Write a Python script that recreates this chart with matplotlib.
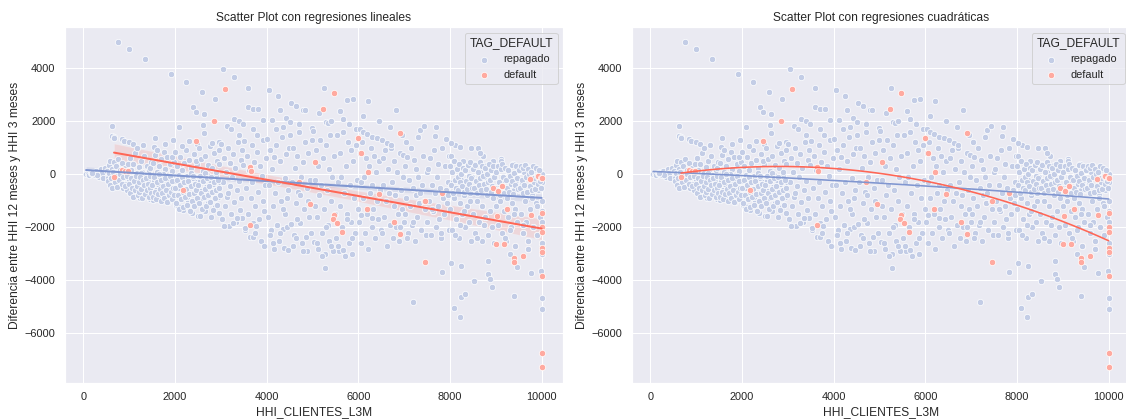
import numpy as np
import pandas as pd
import matplotlib
matplotlib.use('Agg')
import matplotlib.pyplot as plt
import seaborn as sns

# HHI_CLIENTES_L3M (x) vs diferencia HHI 12m - HHI 3m (y), clientes que repagaron
repagado_x = [
    60, 95, 130, 160, 190, 220, 250, 285, 320, 350, 380, 410, 440, 470, 300, 200,
    520, 540, 560, 580, 600, 620, 640, 660, 680, 700, 720, 740, 760, 780, 800, 820, 840, 860, 880, 900, 920, 940, 960, 980, 995, 620, 620, 660, 680, 840, 890, 764, 650,
    1010, 1030, 1050, 1070, 1090, 1110, 1130, 1150, 1170, 1190, 1210, 1230, 1250, 1270, 1290, 1310, 1330, 1350, 1370, 1390, 1410, 1430, 1450, 1470, 1490, 1060, 1160, 1260, 1360, 1460, 1004, 1346, 1004, 1077, 1180, 1300,
    1510, 1530, 1550, 1570, 1590, 1610, 1630, 1650, 1670, 1690, 1710, 1730, 1750, 1770, 1790, 1810, 1830, 1850, 1870, 1890, 1910, 1930, 1950, 1970, 1990, 1540, 1640, 1740, 1840, 1940, 1565, 1550, 1608, 1907, 1780, 1950,
    2010, 2030, 2050, 2070, 2090, 2110, 2130, 2150, 2170, 2190, 2210, 2230, 2250, 2270, 2290, 2310, 2330, 2350, 2370, 2390, 2410, 2430, 2450, 2470, 2490, 2060, 2160, 2260, 2360, 2460, 2095, 2234, 2400, 2453, 2482, 2300, 2150,
    2510, 2530, 2550, 2570, 2590, 2610, 2630, 2650, 2670, 2690, 2710, 2730, 2750, 2770, 2790, 2810, 2830, 2850, 2870, 2890, 2910, 2930, 2950, 2970, 2990, 2560, 2660, 2760, 2860, 2960, 2546, 2597, 2622, 2633, 2626, 2815, 2874, 2968,
    3010, 3030, 3050, 3070, 3090, 3110, 3130, 3150, 3170, 3190, 3210, 3230, 3250, 3270, 3290, 3310, 3330, 3350, 3370, 3390, 3410, 3430, 3450, 3470, 3490, 3060, 3160, 3260, 3360, 3460, 3041, 3288, 3292, 3387, 3130, 3225, 3483, 3400,
    3510, 3530, 3550, 3570, 3590, 3610, 3630, 3650, 3670, 3690, 3710, 3730, 3750, 3770, 3790, 3810, 3830, 3850, 3870, 3890, 3910, 3930, 3950, 3970, 3990, 3528, 3696, 3746, 3950, 3800, 3600, 3600, 3695, 3818, 3928, 3700,
    4010, 4030, 4050, 4070, 4090, 4110, 4130, 4150, 4170, 4190, 4210, 4230, 4250, 4270, 4290, 4310, 4330, 4350, 4370, 4390, 4410, 4430, 4450, 4470, 4490, 4071, 4145, 4294, 4367, 4440, 4462, 4059, 4241, 4291, 4415, 4124, 4200, 4350,
    4510, 4530, 4550, 4570, 4590, 4610, 4630, 4650, 4670, 4690, 4710, 4730, 4750, 4770, 4790, 4810, 4830, 4850, 4870, 4890, 4910, 4930, 4950, 4970, 4990, 4585, 4658, 4731, 4804, 4913, 4509, 4528, 4630, 4804, 4845, 4997, 4700,
    5010, 5030, 5050, 5070, 5090, 5110, 5130, 5150, 5170, 5190, 5210, 5230, 5250, 5270, 5290, 5310, 5330, 5350, 5370, 5390, 5410, 5430, 5450, 5470, 5490, 5095, 5200, 5300, 5400, 5050, 5252, 5296, 5346, 5274, 5150, 5400,
    5510, 5530, 5550, 5570, 5590, 5610, 5630, 5650, 5670, 5690, 5710, 5730, 5750, 5770, 5790, 5810, 5830, 5850, 5870, 5890, 5910, 5930, 5950, 5970, 5990, 5560, 5660, 5760, 5860, 5960, 5747, 5891, 5660, 5600, 5800,
    6010, 6030, 6050, 6070, 6090, 6110, 6130, 6150, 6170, 6190, 6210, 6230, 6250, 6270, 6290, 6310, 6330, 6350, 6370, 6390, 6410, 6430, 6450, 6470, 6490, 6038, 6110, 6184, 6293, 6402, 6060, 6300, 6206, 6100, 6450,
    6510, 6530, 6550, 6570, 6590, 6610, 6630, 6650, 6670, 6690, 6710, 6730, 6750, 6770, 6790, 6810, 6830, 6850, 6870, 6890, 6910, 6930, 6950, 6970, 6990, 6511, 6620, 6707, 6910, 6982, 6816, 6700, 6950,
    7010, 7030, 7050, 7070, 7090, 7110, 7130, 7150, 7170, 7190, 7210, 7230, 7250, 7270, 7290, 7310, 7330, 7350, 7370, 7390, 7410, 7430, 7450, 7470, 7490, 7070, 7200, 7347, 7434, 7050, 7200, 7300,
    7510, 7530, 7550, 7570, 7590, 7610, 7630, 7650, 7670, 7690, 7710, 7730, 7750, 7770, 7790, 7810, 7830, 7850, 7870, 7890, 7910, 7930, 7950, 7970, 7990, 7667, 7907, 7600, 7800, 7950, 7820, 7700,
    8010, 8030, 8050, 8070, 8090, 8110, 8130, 8150, 8170, 8190, 8210, 8230, 8250, 8270, 8290, 8310, 8330, 8350, 8370, 8390, 8410, 8430, 8450, 8470, 8490, 8016, 8110, 8219, 8437, 8300, 8016, 8235, 8095, 8213, 8248, 8322,
    8510, 8530, 8550, 8570, 8590, 8610, 8630, 8650, 8670, 8690, 8710, 8730, 8750, 8770, 8790, 8810, 8830, 8850, 8870, 8890, 8910, 8930, 8950, 8970, 8990, 8655, 8800, 8900, 8600, 8750, 8525, 8830, 8824, 8881, 8925,
    9010, 9030, 9050, 9070, 9090, 9110, 9130, 9150, 9170, 9190, 9210, 9230, 9250, 9270, 9290, 9310, 9330, 9350, 9370, 9390, 9410, 9430, 9450, 9470, 9490, 9114, 9200, 9300, 9400, 9404, 9457, 9300,
    9510, 9530, 9550, 9570, 9590, 9610, 9630, 9650, 9670, 9690, 9710, 9730, 9750, 9770, 9790, 9810, 9830, 9850, 9870, 9890, 9910, 9930, 9950, 9970, 9990, 9600, 9700, 9800, 9900, 10000, 10000, 10000, 10000, 10000, 10000, 9981, 10000, 10000, 9762, 10000,
    # nucleo denso
    530, 555, 575, 605, 630, 655, 690, 715, 745, 770, 805, 835, 865, 905, 945,
    1005, 1025, 1045, 1065, 1085, 1105, 1125, 1145, 1165, 1185, 1205, 1225, 1245, 1265, 1285, 1305, 1325, 1345, 1365, 1385, 1405, 1425, 1445, 1465, 1485,
    1505, 1525, 1545, 1565, 1585, 1605, 1625, 1645, 1665, 1685, 1705, 1725, 1745, 1765, 1785, 1805, 1825, 1845, 1865, 1885, 1905, 1925, 1945, 1965, 1985,
    2005, 2025, 2045, 2065, 2085, 2105, 2125, 2145, 2165, 2185, 2205, 2225, 2245, 2265, 2285, 2305, 2325, 2345, 2365, 2385, 2405, 2425, 2445, 2465, 2485,
    2505, 2525, 2545, 2565, 2585, 2605, 2625, 2645, 2665, 2685, 2705, 2725, 2745, 2765, 2785, 2805, 2825, 2845, 2865, 2885, 2905, 2925, 2945, 2965, 2985,
    8005, 8025, 8045, 8065, 8085, 8105, 8125, 8145, 8165, 8185, 8205, 8225, 8245, 8265, 8285, 8305, 8325, 8345, 8365, 8385, 8405, 8425, 8445, 8465, 8485,
    8505, 8525, 8545, 8565, 8585, 8605, 8625, 8645, 8665, 8685, 8705, 8725, 8745, 8765, 8785, 8805, 8825, 8845, 8865, 8885, 8905, 8925, 8945, 8965, 8985,
    9005, 9025, 9045, 9065, 9085, 9105, 9125, 9145, 9165, 9185, 9205, 9225, 9245, 9265, 9285, 9305, 9325, 9345, 9365, 9385, 9405, 9425, 9445, 9465, 9485,
    9505, 9525, 9545, 9565, 9585, 9605, 9625, 9645, 9665, 9685, 9705, 9725, 9745, 9765, 9785, 9805, 9825, 9845, 9865, 9885, 9905, 9925, 9945, 9965, 9985,
]
repagado_y = [
    10, 30, -20, 60, 0, 90, -40, 120, 30, -90, 200, 60, -150, 250, -10, 40,
    120, -150, 350, 520, -60, 200, -280, 450, 80, -350, 300, -120, 560, -450, 180, -230, 420, -520, 30, 250, -380, 120, -600, 380, -180, 1834, 1445, 1400, 1358, 1320, 1268, 4992, -30,
    620, -420, 150, -760, 380, -90, 820, -300, 40, -560, 260, -880, 510, -180, 90, -650, 700, -30, -420, 330, -240, 150, -940, 480, -120, -300, -200, 60, -700, 250, 4740, 4362, 1210, 1148, 1010, 1100,
    -980, 420, -250, 730, -600, 90, -820, 300, -150, 560, -450, -20, 850, -700, 200, -350, 640, -1050, -90, 380, -560, 120, -880, 470, -260, -720, -380, 10, -200, 650, 1381, 1020, 922, 3785, 1150, 1300,
    850, -1150, 300, -520, -30, 640, -900, 170, -1340, 420, -260, -700, 900, -80, -1050, 550, -420, 230, -1450, -150, 760, -600, -1000, 380, -280, -1200, -330, -850, 60, 500, 1796, 3472, 2528, 2362, 1148, 1250, 1050,
    -1560, 980, -250, 560, -900, 120, -1300, 700, -480, -40, -1100, 350, -700, 1050, -1600, 240, -380, 820, -1250, -60, 520, -850, -1450, 900, -300, -620, -1400, -200, -950, 380, -1574, 3106, 1850, 1560, 2289, 1186, 2830, 1236,
    1150, -1700, -300, 620, -1200, 80, -850, 1000, -1950, -450, 420, -1500, -100, 780, -1050, 250, -1800, -600, 1200, -250, -1350, 550, -900, -1650, 350, -1950, -700, -1849, -1660, 900, 3962, 3660, 2100, 2000, 1830, 1710, 1900, 1500,
    1250, -2100, -500, 700, -1500, 150, -2350, -900, 1100, -300, -1850, 480, -1200, -1950, 850, -650, -1700, 300, -2500, -50, -1000, 1300, -2706, -400, 600, -2038, -2355, -2226, -1400, 1500, 3245, 2528, 2477, 2450, 2049, 1700,
    1350, -1600, -400, 900, -2102, 200, -1200, -2830, 650, -700, 1100, -1900, -300, -2500, 500, -1000, 1400, -2075, -2792, -150, -1500, 750, -1977, -600, 1000, -2300, -2600, -2200, -1300, -900, -2857, 3170, 2955, 2415, 2125, 2049, 1700, 1800,
    1500, -1875, -300, 1000, -2291, 250, -1100, -2415, 700, -650, 1600, -1849, -100, -2600, 450, -1300, 1200, -2355, -500, -2900, 800, -1600, -200, -2226, 1300, -2700, -1700, -800, -2900, -1000, 1985, 2690, 2566, 2415, 2426, 1736, 1900,
    1650, -2543, -200, 900, -1600, 300, -2800, -800, 1300, -400, -2200, 600, -1300, -3000, 1100, -600, -1900, 200, -2500, 1500, -1000, -100, -2900, 700, -1500, -2580, -3100, -2000, -2700, -1200, 3245, 1985, 1947, -3547, 2300, 2000,
    -2400, 1500, -300, -2900, 800, -1200, -100, -2000, 1600, -700, -3100, 300, -1500, 1200, -2600, -400, 900, -1800, -3000, 500, -900, -2200, 1700, -200, -1300, -2700, -2850, -1700, -2400, 1100, 2804, 2830, 2098, 2400, 1900,
    -1800, 800, -300, -2600, 1200, -900, -100, -2200, 600, -1500, -2800, 300, -700, 1000, -2000, -400, -1300, 700, -2400, 100, -1000, -1700, 500, -600, -2100, 1698, 1608, 1521, 1419, 1358, -1550, -1650, 2755, 2200, 2000,
    -2200, 600, -400, -1600, 900, -1000, -2700, 200, -700, -1900, 1000, -300, -2400, -1200, 500, -800, -2000, 100, -1500, -2500, 815, -600, -1300, -100, -1800, 1294, 1192, 1106, -2000, 728, 2426, 1800, 1500,
    -1500, 300, -900, 664, -2200, -200, -1200, 1000, -1900, -500, 540, -2500, -800, 200, -1600, -100, -1100, 1672, -2100, -400, 700, 1823, -1300, -2300, 100, -2400, -1800, -700, -1000, 1200, -4806, 1400,
    -1800, 200, -1000, 600, -2300, -400, -1400, 900, -700, -2000, -100, -1200, 400, -1700, -500, -2400, 1000, -900, -1500, 300, 1321, -1100, -300, -2100, 700, 1434, -600, -1300, -2200, -800, -3698, 1800,
    -1300, 700, -2100, -300, -900, 1106, -1700, 200, -600, -2400, -1100, 1042, -200, -1500, 500, -800, -2000, -400, -1200, 300, -1800, -700, 981, -2500, -100, 1192, -2300, -1900, -1000, -1400, -3358, -3449, -5034, -5396, -4642, -4528,
    -1500, 400, -2200, -600, -1000, 1000, -1800, 100, -400, -2500, -1200, 700, -100, -1600, 300, -800, -2300, 200, -1400, -500, -2000, 500, -900, -2600, -100, 815, 340, 260, -2400, -1900, -4038, -3272, -3762, -3940, -4241,
    -1200, 300, -1900, -500, -1000, 566, -2200, -200, -1400, -700, 200, -2500, -900, -1600, 100, -300, -2000, -1100, 400, -600, -2700, -1300, -200, -1800, 250, 500, -2400, -2100, -1500, -4592, -3487, -3000,
    -600, 200, -1500, -300, -2200, 100, -1000, -1800, 300, -700, -2500, -100, -1300, 200, -800, -2000, -400, 250, -1100, -2300, 150, -600, 100, -1600, 50, -1900, -2800, -900, -1200, 20, -300, -1000, -1788, -2600, -3000, -3638, -4679, -5094, -3736, -1400,
    # nucleo denso
    -250, 50, -420, -150, -530, 100, -300, -80, -480, -200, 20, -350, -120, -450, -60,
    -350, -700, -150, -500, -850, -250, -600, -50, -450, -800, -300, -650, -100, -550, -900, -200, -400, -750, -150, -600, -350, -850, -50, -500, -700,
    -400, -850, -100, -650, -950, -300, -750, 0, -550, -1000, -200, -700, -450, -900, -150, -600, -1050, -350, -800, -50, -650, -950, -250, -500, -800,
    -500, -1100, -200, -800, -1300, -400, -950, -100, -650, -1250, -300, -850, -550, -1150, -250, -750, -1400, -450, -1000, -50, -700, -1200, -350, -600, -900,
    -400, -1100, -50, -700, -1300, -250, -850, 50, -550, -1200, -150, -800, -450, -1050, -100, -650, -1350, -300, -900, 100, -600, -1150, -200, -500, -800,
    300, -400, 100, -700, 500, -200, -500, 200, -100, -600, 400, -300, 0, -450, 250, -650, 150, -250, -550, 350, -50, -350, 450, -150, -500,
    200, -500, 350, -250, -700, 100, -400, 450, -150, -600, 300, -50, -350, 250, -550, 0, -300, 400, -200, -650, 150, -450, 300, -100, -500,
    100, -600, 300, -300, -800, 200, -450, 400, -100, -700, 250, -200, -500, 150, -650, -50, -350, 350, -250, -750, 50, -400, 300, -150, -550,
    150, -500, 300, -200, -700, 250, -400, 350, -100, -650, 200, 0, -450, 100, -600, 300, -300, -150, -550, 250, -50, -350, 150, -250, -500,
]

# clientes en default (visibles sobre la nube)
default_x = [670, 838, 910, 982, 2175, 2466, 2845, 3092, 3644, 3650, 3644, 4700, 4953, 5045, 5237,
             5470, 5470, 5455, 5529, 5638, 5994, 6059, 6219, 6183, 6459, 6779, 6910, 6910, 7456, 7456,
             7833, 8946, 9042, 9129, 9020, 9252, 8998, 9180, 9391, 9391, 9601, 9762, 9747, 9929, 9981,
             10000, 10000, 10000, 10000, 10000, 10000, 10000, 10000, 10000]
default_y = [-113, 162, 136, 136, -604, 1268, 2011, 3208, 275, 140, -1913, -300, -1109, 450, 2477,
             3057, -1547, -1687, -1849, -2177, 1370, 804, 75, -1321, -743, -1788, 1547, -2264, -996, -3321,
             -705, -528, -630, -430, -1574, -1309, -2642, -2642, -3147, -3321, -3083, -1524, -189, -64, -140,
             -128, -1472, -2000, -2190, -2770, -2950, -3850, -6743, -7272]

# clientes en default que quedan tapados por puntos de repagado
default_fondo_x = [
    800, 880, 940, 690, 900,
    1050, 1170, 1290, 1430, 1110, 1270, 1350, 1410,
    1610, 1790, 1730, 1670, 1930, 1870,
    2050, 2190, 2310, 2270,
    2570, 2730, 2690,
    3210, 3070, 3430, 3730, 3610, 3990, 3570,
    4170, 4390, 4430, 4290, 4790, 4750,
    5350, 5190, 5730, 5810, 6310, 6130, 6670, 6810,
    7250, 7330, 7630, 7850,
    8270, 8370, 8130, 8710, 8770, 8630,
    9130, 9330, 9230, 9410,
    9590, 9710, 9810, 9890, 9700, 9600,
    10000, 10000, 10000, 10000, 10000, 10000,
]
default_fondo_y = [
    180, 30, 120, -300, 250,
    150, 40, 90, 150, -90, -180, -30, -240,
    90, 200, -20, -150, 120, -90,
    300, 420, 550, -80,
    560, 350, -40,
    420, 620, 550, 480, 150, 600, 700,
    650, -150, 750, 500, 450, -100,
    200, -400, 300, -400, -400, -100, -700, -800,
    -800, -1100, -1400, -900,
    -1500, -1200, -1700, -1200, -1600, -1800,
    -2200, -2000, -2500, -2700,
    -2200, -2500, -2000, -2300, -2800, -1900,
    -1788, -2600, -3000, -1000, -1400, -2600,
]

rep = pd.DataFrame({'HHI_CLIENTES_L3M': repagado_x, 'DIF_HHI': repagado_y})
dft = pd.DataFrame({'HHI_CLIENTES_L3M': default_x + default_fondo_x,
                    'DIF_HHI': default_y + default_fondo_y})
grupos = {'repagado': rep, 'default': dft}

sns.set_theme(style='darkgrid')
plt.rcParams['font.family'] = ['Liberation Sans', 'DejaVu Sans']

color_punto = {'repagado': '#c3cde6', 'default': '#ffaaa0'}
color_linea = {'repagado': '#8096d0', 'default': '#ff6655'}

fig = plt.figure(figsize=(1126 / 72, 419 / 72), dpi=72)
ax1 = fig.add_axes([65 / 1126, 36 / 419, 498 / 1126, 356 / 419])
ax2 = fig.add_axes([632 / 1126, 36 / 419, 498 / 1126, 356 / 419])

paneles = [(ax1, 1, 'Scatter Plot con regresiones lineales'),
           (ax2, 2, 'Scatter Plot con regresiones cuadráticas')]

estilo = dict(s=40, edgecolor='white', linewidth=0.7)
for ax, orden, titulo in paneles:
    # defaults tapados, luego repagado, luego defaults visibles
    ax.scatter(default_fondo_x, default_fondo_y, color=color_punto['default'], zorder=2, **estilo)
    h_rep = ax.scatter(repagado_x, repagado_y, color=color_punto['repagado'], zorder=2.1, **estilo)
    h_def = ax.scatter(default_x, default_y, color=color_punto['default'], zorder=2.2, **estilo)

    for tag in ['repagado', 'default']:
        sns.regplot(data=grupos[tag], x='HHI_CLIENTES_L3M', y='DIF_HHI', order=orden, scatter=False,
                    ci=95 if orden == 1 else None, seed=0, truncate=True,
                    color=color_linea[tag], line_kws={'lw': 2 if orden == 1 else 1.6, 'zorder': 3}, ax=ax)

    ax.set_xlim(-400, 10467)
    ax.set_ylim(-7875, 5558)
    ax.set_xticks([0, 2000, 4000, 6000, 8000, 10000])
    ax.set_yticks([-6000, -4000, -2000, 0, 2000, 4000])
    ax.set_title(titulo, fontsize=12)
    ax.set_xlabel('HHI_CLIENTES_L3M', fontsize=12)
    ax.set_ylabel('Diferencia entre HHI 12 meses y HHI 3 meses', fontsize=12)
    ax.legend(handles=[h_rep, h_def], labels=['repagado', 'default'], title='TAG_DEFAULT', loc='upper right')

fig.savefig('out.png', dpi=72)
